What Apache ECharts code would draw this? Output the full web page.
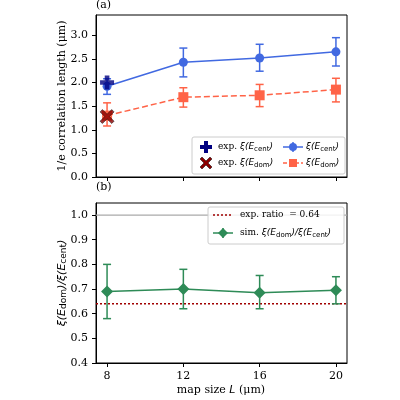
<!DOCTYPE html><html><head><meta charset="utf-8"><script src="https://cdn.jsdelivr.net/npm/echarts@6/dist/echarts.min.js"></script>
<style>body{margin:0}#c{width:400px;height:400px}</style></head><body><div id="c"></div><script>
const mapSize=[8,12,16,20];
const cent=[1.92,2.43,2.52,2.65], centLo=[1.75,2.12,2.24,2.35], centHi=[2.08,2.73,2.81,2.95];
const dom=[1.30,1.69,1.73,1.85], domLo=[1.08,1.48,1.49,1.59], domHi=[1.57,1.89,1.96,2.09];
const expCent=2.00, expDom=1.28;
const ratio=[0.69,0.70,0.685,0.695], ratioLo=[0.58,0.62,0.62,0.64], ratioHi=[0.80,0.78,0.755,0.75];
const expRatio=0.64;
const topTicks=[0,0.5,1,1.5,2,2.5,3], botTicks=[0.4,0.5,0.6,0.7,0.8,0.9,1.0];
const F='DejaVu Serif';
function err(lo,hi,color,xi,yi){return {type:'custom',xAxisIndex:xi,yAxisIndex:yi,z:5,
 data:mapSize.map((x,i)=>[x,lo[i],hi[i]]),
 renderItem:(p,api)=>{const a=api.coord([api.value(0),api.value(1)]),b=api.coord([api.value(0),api.value(2)]);const st={stroke:color,lineWidth:1.5};
 return {type:'group',children:[{type:'line',shape:{x1:a[0],y1:a[1],x2:b[0],y2:b[1]},style:st},{type:'line',shape:{x1:a[0]-4,y1:a[1],x2:a[0]+4,y2:a[1]},style:st},{type:'line',shape:{x1:b[0]-4,y1:b[1],x2:b[0]+4,y2:b[1]},style:st}]};}};}
const plus='path://M-1,-3H1V-1H3V1H1V3H-1V1H-3V-1H-1Z';
const cross='path://M-2,-3L0,-1L2,-3L3,-2L1,0L3,2L2,3L0,1L-2,3L-3,2L-1,0L-3,-2Z';
const plusPts=(cx,cy,s)=>[[-1,-3],[1,-3],[1,-1],[3,-1],[3,1],[1,1],[1,3],[-1,3],[-1,1],[-3,1],[-3,-1],[-1,-1]].map(p=>[cx+p[0]*s,cy+p[1]*s]);
const crossPts=(cx,cy,s)=>[[-2,-3],[0,-1],[2,-3],[3,-2],[1,0],[3,2],[2,3],[0,1],[-2,3],[-3,2],[-1,0],[-3,-2]].map(p=>[cx+p[0]*s,cy+p[1]*s]);
const ax={axisLine:{lineStyle:{color:'#000'}},axisTick:{length:4,lineStyle:{color:'#000'}},splitLine:{show:false},axisLabel:{color:'#000',fontFamily:F,fontSize:11}};
const xa=(gi,show)=>Object.assign({},ax,{type:'value',gridIndex:gi,min:7.42,max:20.58,axisLabel:Object.assign({},ax.axisLabel,{show:show,customValues:mapSize}),axisTick:Object.assign({},ax.axisTick,{customValues:mapSize})});
const c=echarts.init(document.getElementById('c'));
const R=(n)=>({n:{fontFamily:F,fontSize:n},i:{fontStyle:'italic',fontFamily:'DejaVu Sans',fontSize:n},s:{fontFamily:'DejaVu Sans',fontSize:n-2,padding:[4,0,0,0]}});
c.setOption({animation:false,
grid:[{left:96,top:15,width:251,height:162,show:true,borderColor:'#000',borderWidth:1},{left:96,top:203,width:251,height:160,show:true,borderColor:'#000',borderWidth:1}],
xAxis:[xa(0,false),xa(1,true)],
yAxis:[Object.assign({},ax,{type:'value',gridIndex:0,min:0,max:3.43,axisLabel:Object.assign({},ax.axisLabel,{customValues:topTicks,formatter:v=>v.toFixed(1)}),axisTick:Object.assign({},ax.axisTick,{customValues:topTicks})}),
Object.assign({},ax,{type:'value',gridIndex:1,min:0.4,max:1.049,axisLabel:Object.assign({},ax.axisLabel,{customValues:botTicks,formatter:v=>v.toFixed(1)}),axisTick:Object.assign({},ax.axisTick,{customValues:botTicks})})],
series:[
 err(centLo,centHi,'#4169E1',0,0),
 {type:'line',xAxisIndex:0,yAxisIndex:0,data:mapSize.map((x,i)=>[x,cent[i]]),symbol:'circle',symbolSize:9,itemStyle:{color:'#4169E1'},lineStyle:{color:'#4169E1',width:1.5},z:6},
 err(domLo,domHi,'#FF6347',0,0),
 {type:'line',xAxisIndex:0,yAxisIndex:0,data:mapSize.map((x,i)=>[x,dom[i]]),symbol:'rect',symbolSize:10,itemStyle:{color:'#FF6347'},lineStyle:{color:'#FF6347',width:1.5,type:[6,3]},z:6},
 {type:'scatter',xAxisIndex:0,yAxisIndex:0,data:[[mapSize[0],expCent]],symbol:plus,symbolSize:14,itemStyle:{color:'#000080'},z:8},
 {type:'scatter',xAxisIndex:0,yAxisIndex:0,data:[[mapSize[0],expDom]],symbol:cross,symbolSize:14,itemStyle:{color:'#8B0000',borderColor:'#000',borderWidth:0.6},z:8},
 {type:'line',xAxisIndex:1,yAxisIndex:1,data:[[7.42,1.0],[20.58,1.0]],symbol:'none',lineStyle:{color:'#aaa',width:1.2},silent:true},
 {type:'line',xAxisIndex:1,yAxisIndex:1,data:[[7.42,expRatio],[20.58,expRatio]],symbol:'none',lineStyle:{color:'#A00000',width:1.5,type:[2,2]}},
 err(ratioLo,ratioHi,'#2E8B57',1,1),
 {type:'line',xAxisIndex:1,yAxisIndex:1,data:mapSize.map((x,i)=>[x,ratio[i]]),symbol:'diamond',symbolSize:12,itemStyle:{color:'#2E8B57'},lineStyle:{color:'#2E8B57',width:1.5},z:6}
],
graphic:[
 {type:'text',x:96,y:0,style:{text:'(a)',font:'11px DejaVu Serif',fill:'#000'}},
 {type:'text',x:96,y:182,style:{text:'(b)',font:'11px DejaVu Serif',fill:'#000'}},
 {type:'text',x:221,y:396,style:{text:'{n|map size }{i|L}{n| (μm)}',fill:'#000',textAlign:'center',textVerticalAlign:'bottom',rich:R(11)}},
 {type:'text',x:62,y:96,rotation:Math.PI/2,style:{text:'1/e correlation length (μm)',font:'11px DejaVu Serif',fill:'#000',textAlign:'center',textVerticalAlign:'middle'}},
 {type:'text',x:62,y:283,rotation:Math.PI/2,style:{text:'{i|ξ(E}{s|dom}{i|)/ξ(E}{s|cent}{i|)}',fill:'#000',textAlign:'center',textVerticalAlign:'middle',rich:R(11)}},
 {type:'rect',shape:{x:192,y:137,width:153,height:37,r:2},style:{fill:'rgba(255,255,255,0.85)',stroke:'#ccc',lineWidth:1},z:20},
 {type:'polygon',shape:{points:plusPts(206,147,2)},style:{fill:'#000080'},z:21},
 {type:'polygon',shape:{points:crossPts(206,163,2)},style:{fill:'#8B0000',stroke:'#000',lineWidth:0.5},z:21},
 {type:'text',x:218,y:147,z:21,style:{text:'{n|exp. }{i|ξ(E}{s|cent}{i|)}',textVerticalAlign:'middle',rich:R(9)}},
 {type:'text',x:218,y:163,z:21,style:{text:'{n|exp. }{i|ξ(E}{s|dom}{i|)}',textVerticalAlign:'middle',rich:R(9)}},
 {type:'line',shape:{x1:283,y1:147,x2:303,y2:147},style:{stroke:'#4169E1',lineWidth:1.5},z:21},
 {type:'line',shape:{x1:293,y1:142,x2:293,y2:152},style:{stroke:'#4169E1',lineWidth:1.5},z:21},
 {type:'circle',shape:{cx:293,cy:147,r:4},style:{fill:'#4169E1'},z:21},
 {type:'line',shape:{x1:283,y1:163,x2:303,y2:163},style:{stroke:'#FF6347',lineWidth:1.5,lineDash:[4,2]},z:21},
 {type:'rect',shape:{x:289,y:159,width:8,height:8},style:{fill:'#FF6347'},z:21},
 {type:'text',x:306,y:147,z:21,style:{text:'{i|ξ(E}{s|cent}{i|)}',textVerticalAlign:'middle',rich:R(9)}},
 {type:'text',x:306,y:163,z:21,style:{text:'{i|ξ(E}{s|dom}{i|)}',textVerticalAlign:'middle',rich:R(9)}},
 {type:'rect',shape:{x:208,y:207,width:136,height:37,r:2},style:{fill:'rgba(255,255,255,0.85)',stroke:'#ccc',lineWidth:1},z:20},
 {type:'line',shape:{x1:213,y1:215,x2:233,y2:215},style:{stroke:'#A00000',lineWidth:1.5,lineDash:[2,2]},z:21},
 {type:'text',x:240,y:215,z:21,style:{text:'exp. ratio  = 0.64',font:'9px DejaVu Serif',textVerticalAlign:'middle'}},
 {type:'line',shape:{x1:213,y1:233,x2:233,y2:233},style:{stroke:'#2E8B57',lineWidth:1.5},z:21},
 {type:'line',shape:{x1:223,y1:228,x2:223,y2:238},style:{stroke:'#2E8B57',lineWidth:1.5},z:21},
 {type:'polygon',shape:{points:[[223,228],[228,233],[223,238],[218,233]]},style:{fill:'#2E8B57'},z:21},
 {type:'text',x:240,y:233,z:21,style:{text:'{n|sim. }{i|ξ(E}{s|dom}{i|)/ξ(E}{s|cent}{i|)}',textVerticalAlign:'middle',rich:R(9)}}
]});
</script></body></html>
